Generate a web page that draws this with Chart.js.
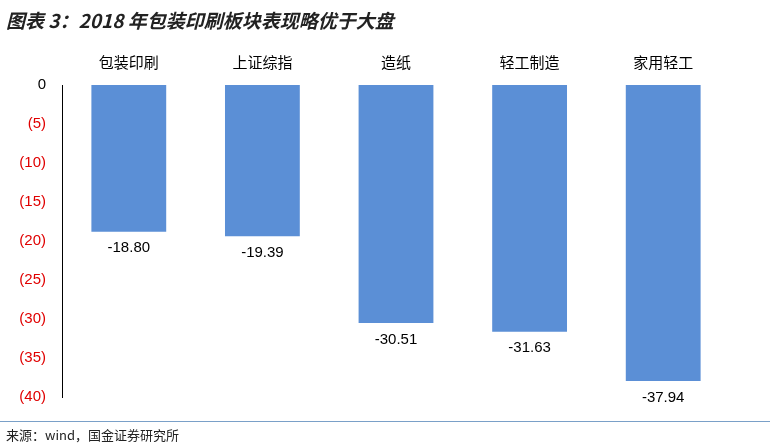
<!DOCTYPE html>
<html><head><meta charset="utf-8">
<script src="https://cdn.jsdelivr.net/npm/chart.js@4"></script>
<style>
body{margin:0;width:770px;height:445px;position:relative;background:#fff;font-family:"Noto Sans CJK SC",sans-serif;overflow:hidden}
#t{position:absolute;left:6px;top:6px;font-size:19px;font-weight:bold;font-style:italic;color:#222}
#f{position:absolute;left:6px;top:425px;font-size:13px;color:#222}
#l{position:absolute;left:0;top:421px;width:770px;height:1px;background:#7aa0c8}
canvas{position:absolute;left:0;top:0}
</style></head><body>
<canvas id="c" width="770" height="445"></canvas>
<div id="t">图表 3：2018 年包装印刷板块表现略优于大盘</div>
<div id="l"></div>
<div id="f">来源：wind，国金证券研究所</div>
<script>
const categories=["包装印刷","上证综指","造纸","轻工制造","家用轻工"];
const values=[-18.80,-19.39,-30.51,-31.63,-37.94];
const yTicks=[0,-5,-10,-15,-20,-25,-30,-35,-40];
const labelPlugin={id:'lbl',afterDatasetsDraw(ch){const c=ch.ctx;const m=ch.getDatasetMeta(0);c.save();c.font='15px "Liberation Sans", Arial';c.fillStyle='#000';c.textAlign='center';c.textBaseline='top';m.data.forEach((b,i)=>{c.fillText(values[i].toFixed(2),b.x,b.y+9)});c.restore();}};
new Chart(document.getElementById('c'),{type:'bar',data:{labels:categories,datasets:[{data:values,backgroundColor:'#5b8fd6',barPercentage:0.56,categoryPercentage:1}]},
options:{responsive:false,animation:false,plugins:{legend:{display:false},tooltip:{enabled:false}},
layout:{padding:{top:0,bottom:48,right:40,left:0}},
scales:{x:{position:'top',grid:{display:false},border:{display:false},ticks:{color:'#000',font:{size:15,family:'"Noto Sans CJK SC"'},padding:6},afterFit(s){s.height=85;}},
y:{min:-40,max:0,afterBuildTicks(s){s.ticks=yTicks.map(v=>({value:v}));},grid:{display:false},border:{color:'#000'},
ticks:{padding:8,font:{size:15,family:'"Liberation Sans", Arial'},color:c=>c.tick&&c.tick.value===0?'#000':'#e00000',callback:v=>v===0?'0':'('+(-v)+')'},afterFit(s){s.width=62;}}}},
plugins:[labelPlugin]});
</script></body></html>
